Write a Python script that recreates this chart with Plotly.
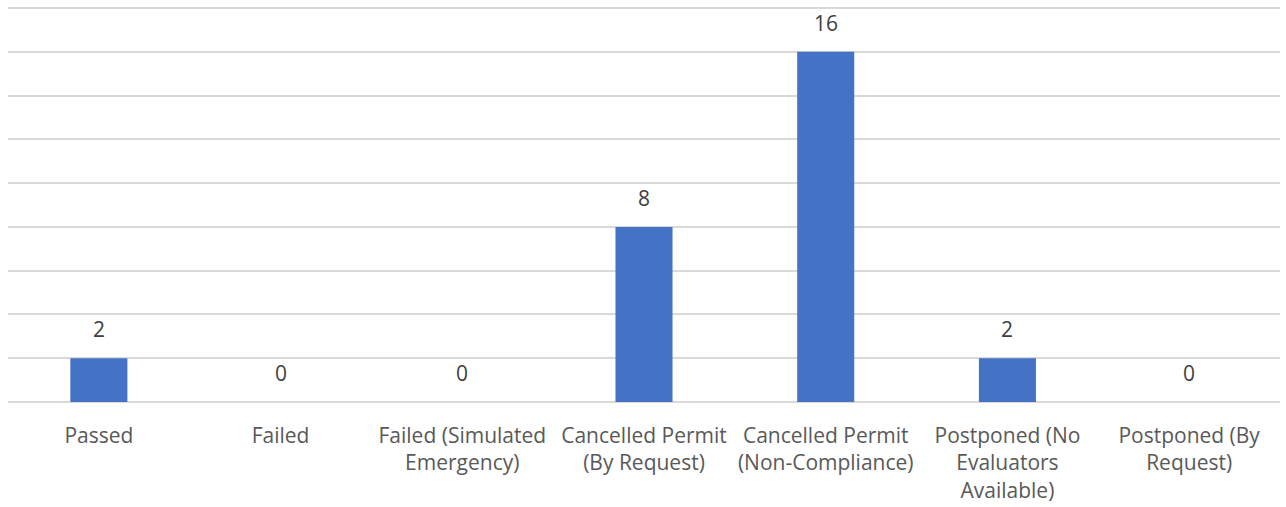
import plotly.graph_objects as go

categories = ["Passed", "Failed", "Failed (Simulated<br>Emergency)", "Cancelled Permit<br>(By Request)",
              "Cancelled Permit<br>(Non-Compliance)", "Postponed (No<br>Evaluators<br>Available)",
              "Postponed (By<br>Request)"]
values = [2, 0, 0, 8, 16, 2, 0]
y_ticks = [0, 2, 4, 6, 8, 10, 12, 14, 16, 18]

fig = go.Figure(go.Bar(
    x=categories, y=values,
    marker=dict(color="#4472C4", line=dict(width=0)),
    cliponaxis=False,
))
for c, v in zip(categories, values):
    fig.add_annotation(x=c, y=v, text=str(v), showarrow=False, yanchor="bottom", yshift=13,
                       font=dict(family="Open Sans", size=21, color="#404040"))
fig.update_layout(
    width=1286, height=507,
    margin=dict(l=8, r=6, t=7, b=105),
    plot_bgcolor="white", paper_bgcolor="white",
    bargap=0.686, showlegend=False,
    font=dict(family="Open Sans", size=21, color="#595959"),
)
fig.update_xaxes(showgrid=False, showline=False, ticks="", ticklen=0, ticklabelstandoff=19,
                 automargin=False,
                 tickfont=dict(family="Open Sans", size=21, color="#595959"), tickangle=0)
fig.update_yaxes(range=[0, 18.05], tickvals=y_ticks, showticklabels=False, automargin=False,
                 showgrid=True, gridcolor="#D9D9D9", gridwidth=2,
                 zeroline=True, zerolinecolor="#D9D9D9", zerolinewidth=2, showline=False)
fig.write_html("out.html")
